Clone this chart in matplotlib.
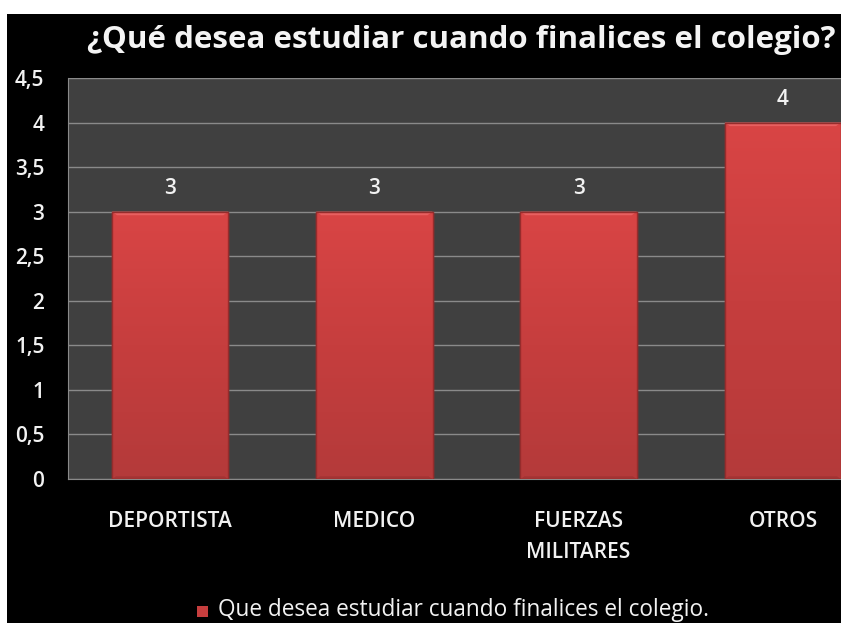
import matplotlib
matplotlib.use("Agg")
import matplotlib.pyplot as plt
from matplotlib.patches import Rectangle, Polygon
from matplotlib.colors import LinearSegmentedColormap
import numpy as np

categories = ["DEPORTISTA", "MEDICO", "FUERZAS\nMILITARES", "OTROS"]
values = [3, 3, 3, 4]
yticks = [0, 0.5, 1, 1.5, 2, 2.5, 3, 3.5, 4, 4.5]
ytick_labels = ["0", "0,5", "1", "1,5", "2", "2,5", "3", "3,5", "4", "4,5"]
title = "¿Qué desea estudiar cuando finalices el colegio?"
legend_label = "Que desea estudiar cuando finalices el colegio."

W, H = 841, 623
plt.rcParams["font.family"] = ["Open Sans", "DejaVu Sans"]
fig = plt.figure(figsize=(W / 100, H / 100), dpi=100, facecolor="white")

# black background panel (image has thin white border top/left)
fig.patches.append(Rectangle((7 / W, 0), 1, 1 - 14 / H, transform=fig.transFigure,
                             facecolor="black", edgecolor="none", zorder=-10))

# axes: plot area from x=68 to 885 px (cropped at right), y=78 to 479 px
left, right, top, bottom = 68, 885, 78, 479
ax = fig.add_axes([left / W, 1 - bottom / H, (right - left) / W, (bottom - top) / H])
ax.set_facecolor("#404040")
x = np.arange(len(categories))
bars = ax.bar(x, values, width=0.57, color="#c63e3e", edgecolor="#9a2e2e", linewidth=1.0, zorder=3)

cmap = LinearSegmentedColormap.from_list("bar", ["#b43a3a", "#c63e3e", "#d94545"])
grad = np.linspace(0, 1, 256).reshape(-1, 1)
for b in bars:
    x0, w, h = b.get_x(), b.get_width(), b.get_height()
    im = ax.imshow(grad, extent=[x0, x0 + w, 0, h], origin="lower", aspect="auto",
                   cmap=cmap, zorder=3.5, interpolation="bilinear")
    im.set_clip_path(b)
    # top bevel
    bev = Polygon([[x0, h], [x0 + w, h], [x0 + w - 0.025, h - 0.04], [x0 + 0.025, h - 0.04]],
                  closed=True, facecolor="#e86060", edgecolor="none", zorder=3.8)
    ax.add_patch(bev)
    # bottom shade
    bsh = Polygon([[x0, 0], [x0 + w, 0], [x0 + w - 0.02, 0.03], [x0 + 0.02, 0.03]],
                  closed=True, facecolor="#a33333", edgecolor="none", zorder=3.8)
    ax.add_patch(bsh)
    ax.add_patch(Rectangle((x0, 0), w, h, facecolor="none", edgecolor="#962c2c",
                           linewidth=1.0, zorder=3.9))

ax.set_xlim(-0.5, len(categories) - 0.5)
ax.set_ylim(0, 4.5)
ax.set_yticks(yticks)
ax.set_yticklabels(ytick_labels)
ax.set_xticks(x)
ax.set_xticklabels(categories, linespacing=1.65)
ax.grid(axis="y", color="#8a8a8a", linewidth=1.0, zorder=1)
ax.set_axisbelow(True)
for s in ["top", "right"]:
    ax.spines[s].set_visible(False)
ax.spines["left"].set_color("#8a8a8a")
ax.spines["bottom"].set_color("#8a8a8a")
ax.tick_params(axis="y", length=0, pad=17, labelsize=15, labelcolor="#f2f2f2")
ax.tick_params(axis="x", length=0, pad=23, labelsize=15, labelcolor="#f2f2f2")
for t in ax.get_yticklabels() + ax.get_xticklabels():
    t.set_fontweight("semibold")

for b, v in zip(bars, values):
    ax.annotate(str(v), (b.get_x() + b.get_width() / 2, v), xytext=(0, 9),
                textcoords="offset points", ha="center", va="bottom",
                color="#f2f2f2", fontsize=15, fontweight="semibold")

fig.text(461 / W, 1 - 40 / H, title, ha="center", va="center", color="#f4f4f4",
         fontsize=22.5, fontweight="bold")

# legend
fig.patches.append(Rectangle((197 / W, 1 - 617 / H), 11 / W, 11 / H, transform=fig.transFigure,
                             facecolor="#c63e3e", edgecolor="none", zorder=2))
fig.text(218 / W, 1 - 610 / H, legend_label, ha="left", va="center", color="#f2f2f2",
         fontsize=16.3)

fig.savefig("out.png", dpi=100, facecolor="white")
